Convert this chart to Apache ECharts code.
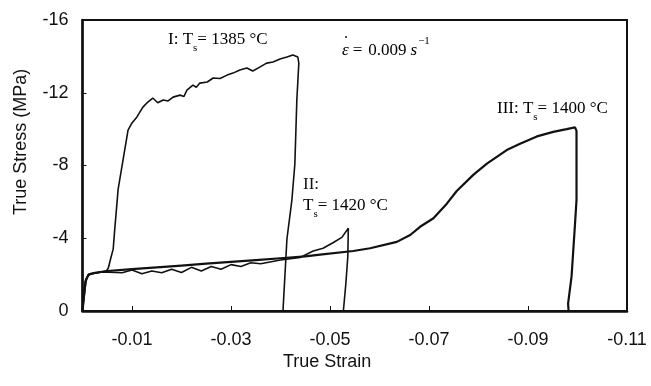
<!DOCTYPE html>
<html>
<head>
<meta charset="utf-8">
<script src="https://cdn.jsdelivr.net/npm/echarts@6/dist/echarts.min.js"></script>
<style>
html,body{margin:0;padding:0;background:#fff;}
#chart{width:651px;height:386px;}
</style>
</head>
<body>
<div id="chart"></div>
<script>
// Axis settings
const xTicks = [-0.01, -0.03, -0.05, -0.07, -0.09, -0.11];
const yTicks = [-16, -12, -8, -4, 0];

// Curve I: Ts = 1385 °C  [true strain, true stress (MPa)]
const curveI = [
  [0, 0], [-0.0002, -1.0], [-0.0006, -1.7], [-0.0012, -2.0], [-0.003, -2.1],
  [-0.0048, -2.2], [-0.0052, -2.35], [-0.0058, -3.0], [-0.0062, -3.4],
  [-0.0065, -4.45], [-0.0072, -6.7], [-0.0092, -9.95], [-0.0100, -10.34],
  [-0.0110, -10.67], [-0.0122, -11.21], [-0.0132, -11.49], [-0.0142, -11.71],
  [-0.0152, -11.45], [-0.0163, -11.6], [-0.0173, -11.55], [-0.0183, -11.76],
  [-0.0197, -11.87], [-0.0205, -11.8], [-0.0211, -12.15], [-0.0223, -12.42],
  [-0.0230, -12.3], [-0.0237, -12.53], [-0.0252, -12.59], [-0.0264, -12.81],
  [-0.0278, -12.78], [-0.0292, -12.97], [-0.0304, -13.08], [-0.0318, -13.25],
  [-0.0332, -13.36], [-0.0344, -13.2], [-0.0358, -13.41], [-0.0372, -13.63],
  [-0.0385, -13.69], [-0.0399, -13.85], [-0.0413, -13.96], [-0.0425, -14.07],
  [-0.0435, -13.96], [-0.0437, -13.63], [-0.0433, -11.6], [-0.0429, -8.08],
  [-0.0423, -6.1], [-0.0413, -3.96], [-0.0405, 0]
];

// Curve II: Ts = 1420 °C
const curveII = [
  [0, 0], [-0.0002, -0.5], [-0.0005, -1.2], [-0.0008, -1.8], [-0.0015, -2.05],
  [-0.004, -2.15], [-0.008, -2.1], [-0.010, -2.25], [-0.012, -2.05],
  [-0.014, -2.2], [-0.016, -2.1], [-0.018, -2.3], [-0.020, -2.12],
  [-0.022, -2.4], [-0.024, -2.2], [-0.026, -2.45], [-0.028, -2.3],
  [-0.030, -2.55], [-0.032, -2.45], [-0.034, -2.65], [-0.036, -2.6],
  [-0.040, -2.8], [-0.044, -2.95], [-0.0466, -3.3], [-0.0486, -3.45],
  [-0.0506, -3.75], [-0.0524, -4.05], [-0.0537, -4.55], [-0.0536, -3.0],
  [-0.0532, -1.5], [-0.0527, 0]
];

// Curve III: Ts = 1400 °C
const curveIII = [
  [0, 0], [-0.0003, -0.8], [-0.0006, -1.6], [-0.0012, -2.0], [-0.0025, -2.1],
  [-0.005, -2.2], [-0.010, -2.3], [-0.015, -2.4], [-0.020, -2.5],
  [-0.025, -2.6], [-0.030, -2.7], [-0.035, -2.8], [-0.040, -2.9],
  [-0.045, -3.0], [-0.048, -3.1], [-0.0547, -3.3], [-0.0581, -3.45],
  [-0.0635, -3.8], [-0.0662, -4.18], [-0.0682, -4.63], [-0.0709, -5.1],
  [-0.0736, -5.9], [-0.0756, -6.6], [-0.0790, -7.5], [-0.0817, -8.1],
  [-0.0857, -8.85], [-0.0884, -9.2], [-0.0918, -9.6], [-0.0951, -9.85],
  [-0.0978, -10.0], [-0.0995, -10.1], [-0.0998, -9.9], [-0.0998, -6.1],
  [-0.0995, -4.8], [-0.0988, -1.9], [-0.0981, -0.4], [-0.0982, 0]
];

const chart = echarts.init(document.getElementById('chart'), null, {renderer: 'canvas'});
const ink = '#111';
const serif = '"Liberation Serif", "Times New Roman", serif';
const sans = '"Liberation Sans", Arial, sans-serif';

const sub = {fontSize: 11, fontFamily: serif, color: ink, verticalAlign: 'bottom', padding: [0, 0, -6, 0]};
function lineSeries(data, w) {
  return {type: 'line', data: data, symbol: 'none', smooth: false,
    lineStyle: {color: ink, width: w}, animation: false, z: 3};
}

chart.setOption({
  animation: false,
  backgroundColor: '#fff',
  grid: {left: 82.5, right: 24, top: 20, bottom: 75, show: true,
    borderColor: ink, borderWidth: 2, backgroundColor: 'transparent'},
  xAxis: {
    type: 'value', inverse: true, min: xTicks[xTicks.length - 1], max: 0, interval: 0.02,
    splitLine: {show: false},
    axisLine: {show: true, onZero: false, lineStyle: {color: ink, width: 2.5}},
    axisTick: {show: true, inside: true, length: 5, lineStyle: {color: ink, width: 1}},
    axisLabel: {margin: 20, fontSize: 18, fontFamily: sans, color: ink,
      formatter: function (v) { return Math.abs(v) < 1e-9 ? '' : v.toFixed(2); }}
  },
  yAxis: {
    type: 'value', inverse: true, min: yTicks[0], max: yTicks[yTicks.length - 1], interval: 4,
    splitLine: {show: false},
    axisLine: {show: true, onZero: false, lineStyle: {color: ink, width: 2.5}},
    axisTick: {show: true, inside: true, length: 4, lineStyle: {color: ink, width: 1}},
    axisLabel: {margin: 14, fontSize: 18, fontFamily: sans, color: ink,
      formatter: function (v) { return String(Math.round(v)); }}
  },
  series: [lineSeries(curveI, 1.6), lineSeries(curveII, 1.6), lineSeries(curveIII, 2.2)],
  graphic: [
    {type: 'text', left: 283, top: 353, style: {text: 'True Strain', font: '18px ' + sans, fill: ink}},
    {type: 'text', x: 12, y: 215, rotation: Math.PI / 2,
      style: {text: 'True Stress (MPa)', font: '18px ' + sans, fill: ink}},
    {type: 'text', left: 168, top: 31, style: {
      text: '{t|I: T}{s|s}{t|= 1385 °C}',
      rich: {t: {fontSize: 17, fontFamily: serif, color: ink}, s: sub}}},
    {type: 'text', left: 342, top: 36, style: {
      text: '{i|ε}{t|=}{n|0.009}{i2|s}{sp|−1}',
      rich: {t: {fontSize: 17, fontFamily: serif, color: ink, padding: [0, 0, 0, 4]},
        n: {fontSize: 17, fontFamily: serif, color: ink, padding: [0, 0, 0, 6]},
        i: {fontSize: 17, fontFamily: serif, fontStyle: 'italic', color: ink},
        i2: {fontSize: 17, fontFamily: serif, fontStyle: 'italic', color: ink, padding: [0, 0, 0, 4]},
        sp: {fontSize: 11, fontFamily: serif, color: ink, verticalAlign: 'top', padding: [-6, 0, 0, 1]}}}},
    {type: 'text', left: 343, top: 35, style: {text: '\u02D9', font: '18px ' + serif, fill: ink}},
    {type: 'text', left: 497, top: 100, style: {
      text: '{t|III: T}{s|s}{t|= 1400 °C}',
      rich: {t: {fontSize: 17, fontFamily: serif, color: ink}, s: sub}}},
    {type: 'text', left: 303, top: 176, style: {
      text: 'II:', font: '17px ' + serif, fill: ink}},
    {type: 'text', left: 303, top: 197, style: {
      text: '{t|T}{s|s}{t|= 1420 °C}',
      rich: {t: {fontSize: 17, fontFamily: serif, color: ink}, s: sub}}}
  ]
});
</script>
</body>
</html>
